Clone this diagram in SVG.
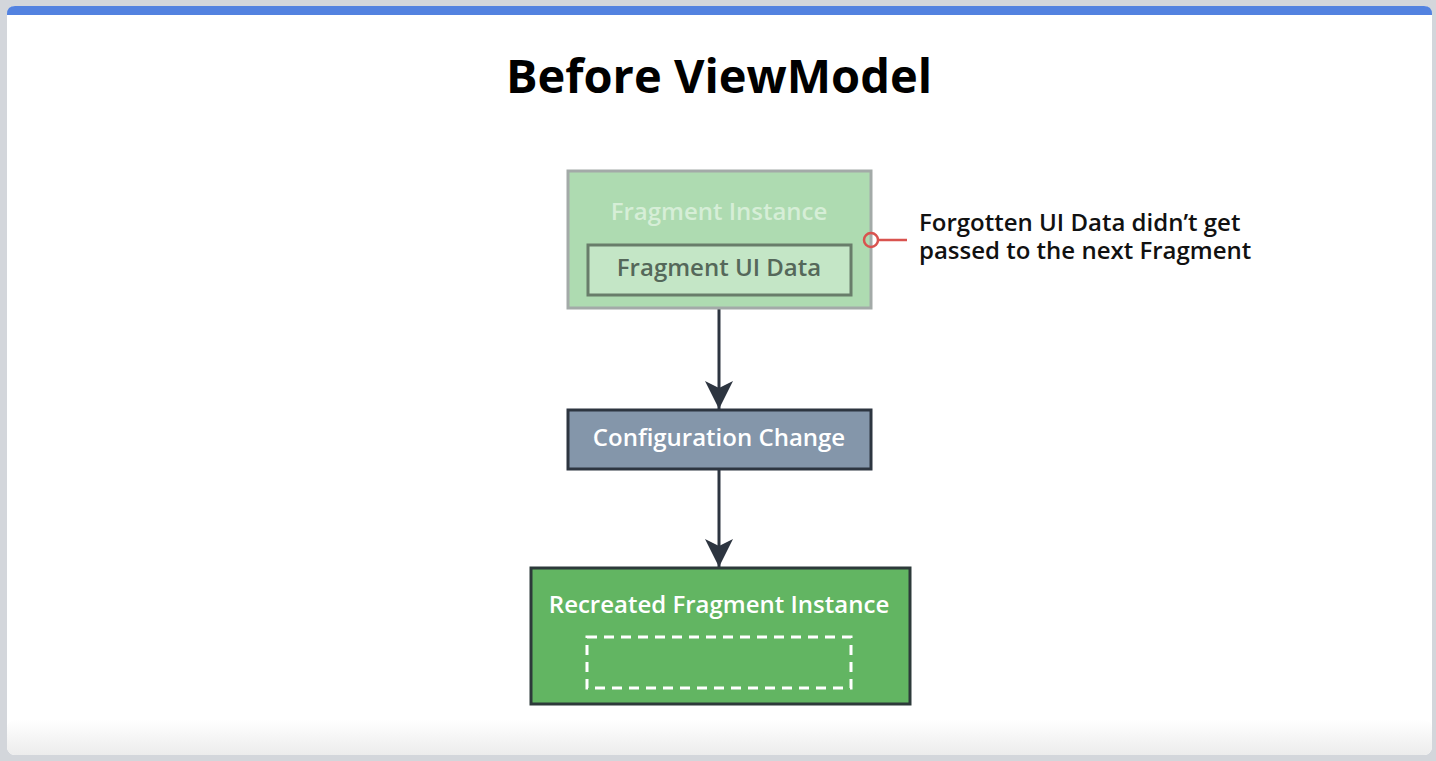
<svg xmlns="http://www.w3.org/2000/svg" width="1436" height="761" viewBox="0 0 1436 761">
<defs>
<style>
.t{font-family:"Open Sans","Noto Sans","Liberation Sans",sans-serif;font-size:24px;font-weight:600;text-anchor:middle}
.conn{stroke:#2d3540;stroke-width:3;fill:none}
</style>
<marker id="ah" viewBox="0 0 28 28" refX="28" refY="14" markerWidth="28" markerHeight="28" markerUnits="userSpaceOnUse" orient="auto">
<path d="M0,0 L28,14 L0,28 L7,14 Z" fill="#2d3540"/>
</marker>
<linearGradient id="bot" x1="0" y1="0" x2="0" y2="1">
<stop offset="0" stop-color="#ffffff"/>
<stop offset="1" stop-color="#ececec"/>
</linearGradient>
</defs>
<rect width="1436" height="761" fill="#d3d6db"/>
<rect x="7" y="6" width="1425" height="749" rx="8" fill="#ffffff"/>
<rect x="7" y="720" width="1425" height="35" rx="8" fill="url(#bot)"/>
<path d="M7,15 V14 Q7,6 15,6 H1424 Q1432,6 1432,14 V15 Z" fill="#5382e0"/>
<text x="719" y="93" style="font-family:'Open Sans','Liberation Sans',sans-serif;font-size:47px;font-weight:bold;text-anchor:middle" fill="#000">Before ViewModel</text>

<g id="connectors">
<line class="conn" x1="719" y1="308" x2="719" y2="409" marker-end="url(#ah)"/>
<line class="conn" x1="719" y1="469" x2="719" y2="567" marker-end="url(#ah)"/>
<line x1="878" y1="240" x2="907" y2="240" stroke="#d9534f" stroke-width="2.5"/>
</g>

<g id="fragment-instance">
<rect x="568" y="171" width="303" height="137" fill="#aedbb1" stroke="#a3aaa8" stroke-width="3"/>
<text class="t" x="719" y="220" fill="#d6eed7">Fragment Instance</text>
<rect x="588" y="245" width="263" height="50" fill="#c4e6c6" stroke="#687d6a" stroke-width="3"/>
<text class="t" x="719" y="276" fill="#55685a">Fragment UI Data</text>
<circle cx="871" cy="240" r="7" fill="none" stroke="#d9534f" stroke-width="2.5"/>
</g>

<g id="annotation">
<text x="919" y="231" style="font-family:'Open Sans','Liberation Sans',sans-serif;font-size:24px;font-weight:600" fill="#111"><tspan x="919">Forgotten UI Data didn’t get</tspan><tspan x="919" dy="28">passed to the next Fragment</tspan></text>
</g>

<g id="configuration-change">
<rect x="568" y="410" width="303" height="59" fill="#8496aa" stroke="#2d3540" stroke-width="3"/>
<text class="t" x="719" y="446" fill="#ffffff">Configuration Change</text>
</g>

<g id="recreated-fragment">
<rect x="531" y="568" width="379" height="136" fill="#62b562" stroke="#2d3a3a" stroke-width="3"/>
<text class="t" x="719" y="613" fill="#ffffff">Recreated Fragment Instance</text>
<rect x="587" y="637" width="264" height="51" fill="none" stroke="#ffffff" stroke-width="3" stroke-dasharray="10 7"/>
</g>
</svg>
